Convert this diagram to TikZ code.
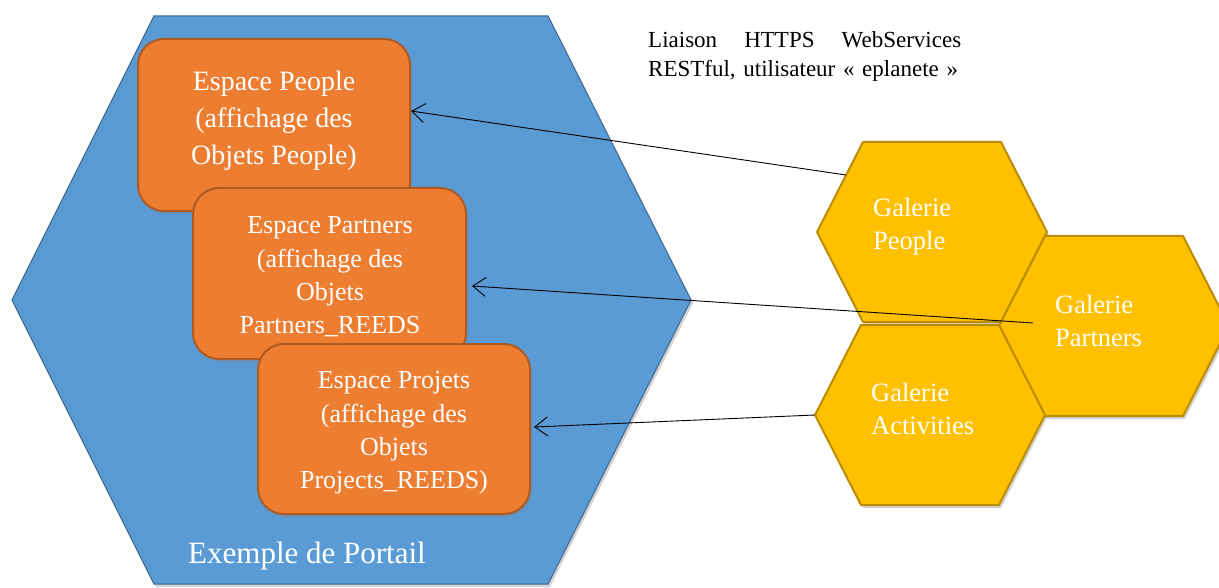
\documentclass[tikz,border=0pt]{standalone}
\usepackage{fontspec}
\setmainfont{Liberation Serif}
\usetikzlibrary{arrows.meta,shadows}
\definecolor{hexblue}{HTML}{5B9BD5}
\definecolor{hexblueline}{HTML}{41719C}
\definecolor{boxorange}{HTML}{ED7D31}
\definecolor{boxorangeline}{HTML}{AE5A21}
\definecolor{hexyellow}{HTML}{FFC000}
\definecolor{hexyellowline}{HTML}{BC8C00}
\begin{document}
\begin{tikzpicture}[x=1pt,y=-1pt,
  softshadow/.style={drop shadow={opacity=0.35,shadow xshift=2pt,shadow yshift=-3pt}},
  portal/.style={fill=hexblue,draw=hexblueline,line width=1.2pt,softshadow},
  obox/.style={rectangle,rounded corners=26pt,fill=boxorange,draw=boxorangeline,line width=2pt,softshadow,inner sep=0pt},
  yhex/.style={fill=hexyellow,draw=hexyellowline,line width=2pt,softshadow,line join=round},
  wtext/.style={text=white,inner sep=0pt},
  conn/.style={-{Straight Barb[length=13pt,width=19pt]},line width=0.9pt,black}
]
\clip (0,0) rectangle (1219,588);
\fill[white] (0,0) rectangle (1219,588);

% portal hexagon
\draw[portal] (154,16) -- (548,16) -- (691,300) -- (548,584) -- (154,584) -- (12,300) -- cycle;

% orange boxes
\node[obox,minimum width=272pt,minimum height=172pt] (box1) at (274,125) {};
\node[wtext,align=center,font=\fontsize{28}{37}\selectfont] (t1) at (274,121) {Espace People\\(affichage des\\Objets People)};
\node[obox,minimum width=273pt,minimum height=171pt] (box2) at (329.5,273.5) {};
\node[wtext,align=center,font=\fontsize{26}{33.3}\selectfont] (t2) at (330,277) {Espace Partners\\(affichage des\\Objets\\Partners\_REEDS};
\node[obox,minimum width=272pt,minimum height=170pt] (box3) at (394,429) {};
\node[wtext,align=center,font=\fontsize{26}{33.3}\selectfont] (t3) at (394,433) {Espace Projets\\(affichage des\\Objets\\Projects\_REEDS)};

\node[wtext,font=\fontsize{31}{36}\selectfont] (portalname) at (307,556) {Exemple de Portail};

% yellow hexagons
\draw[yhex] (863,142) -- (1001,142) -- (1047,232) -- (1001,322) -- (863,322) -- (817,232) -- cycle;
\draw[yhex] (1045,236) -- (1183,236) -- (1229,326) -- (1183,416) -- (1045,416) -- (999,326) -- cycle;
\draw[yhex] (861,325) -- (999,325) -- (1045,415) -- (999,505) -- (861,505) -- (815,415) -- cycle;

\node[wtext,anchor=west,align=left,font=\fontsize{26.5}{33}\selectfont] (gpeople) at (873,227) {Galerie\\People};
\node[wtext,anchor=west,align=left,font=\fontsize{26.5}{33}\selectfont] (gpartners) at (1055,321) {Galerie\\Partners};
\node[wtext,anchor=west,align=left,font=\fontsize{26.5}{33}\selectfont] (gactivities) at (871,409) {Galerie\\Activities};

% link label
\node[anchor=west,align=left,text width=313pt,inner sep=0pt,font=\fontsize{23}{29}\selectfont] (linklabel) at (648,56)
  {\hbox to 313pt{Liaison\hfill HTTPS\hfill WebServices}\\RESTful, utilisateur «~eplanete~»};

% connector endpoints
\coordinate (peopleOut) at (846,175);
\coordinate (partnersOut) at (1033,323);
\coordinate (activitiesOut) at (815,415);
\coordinate (box1In) at (411,111);
\coordinate (box2In) at (472,286);
\coordinate (box3In) at (534,427);

\draw[conn] (peopleOut) -- (box1In);
\draw[conn] (partnersOut) -- (box2In);
\draw[conn] (activitiesOut) -- (box3In);
\end{tikzpicture}
\end{document}
